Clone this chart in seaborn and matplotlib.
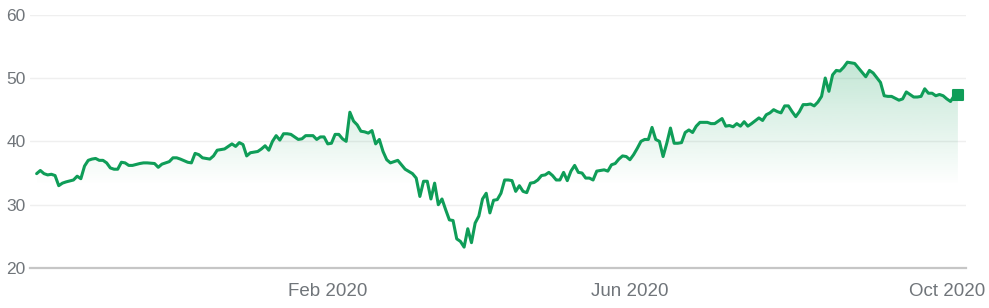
import numpy as np
import pandas as pd
import matplotlib
matplotlib.use("Agg")
import matplotlib.pyplot as plt
import seaborn as sns
from matplotlib.markers import MarkerStyle

# ---------------- data ----------------
holidays = ["2019-11-28", "2019-12-25", "2020-01-01", "2020-01-20", "2020-02-17",
            "2020-04-10", "2020-05-25", "2020-07-03", "2020-09-07"]
start_date = "2019-10-09"
end_date = "2020-10-06"
tick_months = ["2020-02-01", "2020-06-01", "2020-10-01"]
tick_labels = ["Feb 2020", "Jun 2020", "Oct 2020"]
y_ticks = [20, 30, 40, 50, 60]

# trading-session number (0 = first session shown) and closing price
session = [0, 1, 2, 3, 4, 5, 6, 7, 8, 10, 11, 12, 13, 14, 15, 16, 17, 18, 19, 20,
           21, 22, 23, 24, 25, 26, 28, 29, 30, 32, 33, 34, 36, 37, 38, 39, 41, 42, 43, 44,
           45, 47, 48, 49, 50, 51, 52, 53, 54, 55, 56, 57, 58, 60, 61, 62, 63, 64, 65, 66,
           67, 68, 69, 71, 72, 73, 74, 75, 76, 77,
           78, 79, 80, 81, 82, 83, 84, 85, 86, 87, 88, 89, 90, 91, 92, 93, 94, 95, 96, 98,
           99, 100, 102, 103, 104, 105, 106, 107, 108, 109, 110, 111, 112, 113, 114, 115,
           116, 117, 118, 119, 120, 121, 122, 123, 124, 125, 126, 127, 128, 129, 130, 131,
           132, 133, 134, 135, 136, 137, 138, 139, 140, 141, 142, 143, 144, 145, 146, 147,
           148, 149, 150, 151, 152, 154, 155, 156, 157, 158, 159, 160, 161, 162, 163, 164, 165,
           166, 167, 168, 169, 170, 171, 172, 173, 174, 175, 176, 177, 178, 179, 180, 182,
           183, 184, 186, 187, 188, 189, 190, 191, 192, 193, 194, 196, 197, 198, 199, 200,
           201, 202, 203, 204, 205, 206, 207, 208, 209, 210, 211, 212, 213, 214, 215, 216,
           217, 218, 219, 220, 222, 223, 224, 225, 226, 227, 229, 230, 231, 232, 233, 234,
           235, 236, 237, 238, 239, 240, 241, 242, 243, 244, 245, 246, 247, 248, 249, 250]
price = [34.9, 35.4, 34.9, 34.7, 34.8, 34.6, 33.0, 33.4, 33.6, 33.9, 34.5, 34.1, 36.1, 37.0, 37.2, 37.3, 37.0, 37.0, 36.6, 35.8,
         35.6, 35.6, 36.7, 36.6, 36.2, 36.2, 36.5, 36.6, 36.6, 36.5, 35.9, 36.4, 36.8, 37.4, 37.4, 37.2, 36.7, 36.6, 38.1, 37.9,
         37.4, 37.2, 37.7, 38.6, 38.7, 38.8, 39.2, 39.6, 39.2, 39.8, 39.5, 37.7, 38.2, 38.4, 38.8, 39.3, 38.6, 40.0, 40.9, 40.2,
         41.2, 41.2, 41.1, 40.3, 40.4, 40.9, 40.9, 40.9, 40.3, 40.7,
         40.7, 39.6, 39.7, 41.1, 41.1, 40.4, 40.0, 44.6, 43.2, 42.6, 41.6, 41.5, 41.3, 41.7, 39.6, 40.3, 38.4, 37.1, 36.6, 37.0,
         36.3, 35.6, 34.9, 34.2, 31.3, 33.7, 33.7, 30.9, 33.4, 30.0, 30.9, 29.2, 27.6, 27.5, 24.6, 24.2,
         23.3, 26.2, 24.0, 27.1, 28.2, 30.9, 31.8, 28.7, 30.7, 30.8, 31.8, 33.9, 33.9, 33.8, 32.1, 33.0,
         32.1, 31.9, 33.4, 33.5, 33.9, 34.6, 34.7, 35.1, 34.6, 33.9, 33.9, 35.1, 33.8, 35.3, 36.2, 35.1,
         35.0, 34.2, 34.2, 33.9, 35.3, 35.5, 35.3, 36.3, 36.5, 37.2, 37.7, 37.6, 37.1, 37.9, 38.9, 40.0, 40.3,
         40.3, 42.2, 40.3, 40.0, 37.6, 39.7, 42.1, 39.7, 39.7, 39.8, 41.4, 41.8, 41.4, 42.4, 43.0, 43.0,
         42.8, 42.8, 43.6, 42.4, 42.5, 42.3, 42.8, 42.4, 43.1, 42.4, 42.8, 43.7, 43.3, 44.2, 44.5, 45.0,
         44.7, 44.5, 45.6, 45.6, 44.7, 43.9, 44.7, 45.8, 45.8, 45.9, 45.6, 46.2, 47.1, 50.0, 47.9, 50.5,
         51.2, 51.1, 51.7, 52.5, 52.3, 51.6, 50.9, 50.2, 51.2, 50.8, 49.3, 47.2, 47.1, 47.1, 46.8, 46.5,
         46.7, 47.8, 47.4, 47.0, 47.0, 47.1, 48.3, 47.6, 47.6, 47.2, 47.4, 47.2, 46.7, 46.3, 47.2, 47.3]

# ---------------- style ----------------
sns.set_style("white")
plt.rcParams["font.family"] = ["Liberation Sans", "DejaVu Sans"]

green = "#0f9d58"
text_grey = "#70757a"
axis_grey = "#c6c6c6"

calendar = pd.bdate_range(start_date, end_date, freq="C", holidays=holidays)
tick_pos = [int(np.argmax(calendar >= pd.Timestamp(m))) for m in tick_months]

fig = plt.figure(figsize=(9.89, 3.08), dpi=100)
ax = fig.add_axes([30 / 989, 40 / 308, 936 / 989, 253.3 / 308])

sns.lineplot(x=session, y=price, ax=ax, color=green, linewidth=2.2, zorder=3)

# gradient fill under the line
poly = ax.fill_between(session, price, 20, facecolor="none", edgecolor="none")
vals = np.linspace(60, 20, 400)
alphas = np.clip(0.0129 * (vals - 33), 0, 1)
rgba = np.zeros((400, 1, 4))
rgba[:, 0, 0] = 15 / 255
rgba[:, 0, 1] = 157 / 255
rgba[:, 0, 2] = 88 / 255
rgba[:, 0, 3] = alphas
img = ax.imshow(rgba, extent=[session[0], session[-1], 20, 60], aspect="auto",
                origin="upper", zorder=1, interpolation="bilinear")
img.set_clip_path(poly.get_paths()[0], transform=ax.transData)

# end marker
ax.plot([session[-1]], [price[-1]], marker=MarkerStyle("s", joinstyle="round"),
        ms=6.5, color=green, mec=green, mew=1.5, zorder=4, linestyle="none")

ax.set_xlim(-1.8, 252.2)
ax.set_ylim(20, 60)
ax.set_yticks(y_ticks)
ax.set_yticklabels([str(v) for v in y_ticks])
ax.set_xticks(tick_pos)
ax.set_xticklabels(tick_labels)
ax.set_xlabel("")
ax.set_ylabel("")

ax.yaxis.grid(True, color="#efefef", linewidth=1.0)
ax.xaxis.grid(False)
ax.set_axisbelow(True)

for s in ["top", "right", "left"]:
    ax.spines[s].set_visible(False)
ax.spines["bottom"].set_color(axis_grey)
ax.spines["bottom"].set_linewidth(1.6)
ax.spines["bottom"].set_zorder(5)

ax.tick_params(axis="y", length=0, pad=3, labelsize=12.5, labelcolor=text_grey)
ax.tick_params(axis="x", length=8, width=1.5, color=axis_grey, pad=3,
               labelsize=13.5, labelcolor=text_grey)

fig.savefig("out.png", dpi=100)
